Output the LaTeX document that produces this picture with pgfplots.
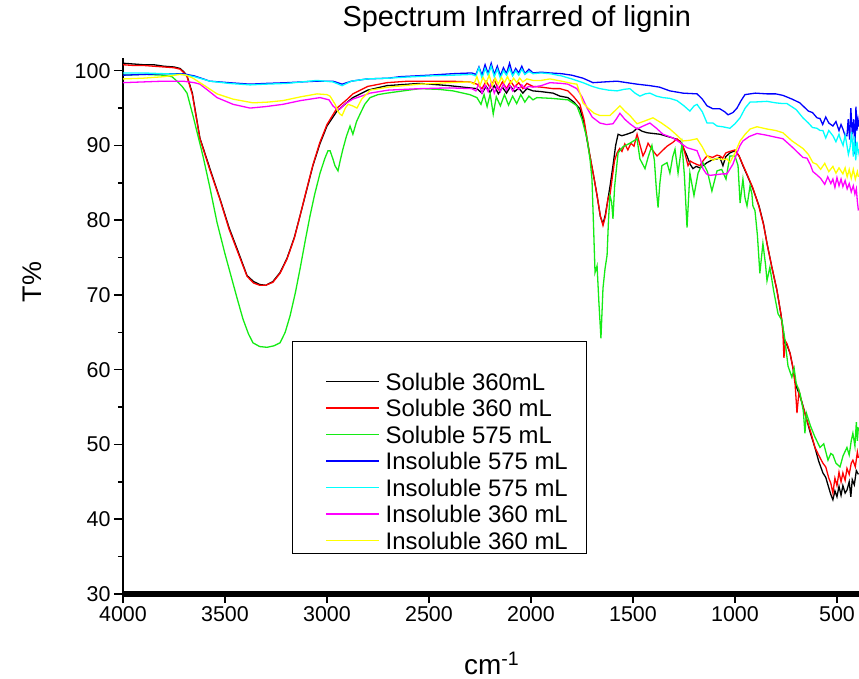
\documentclass[border=0pt]{standalone}
\usepackage{pgfplots}
\pgfplotsset{compat=1.18}
\usepackage{fontspec}
\setmainfont{Liberation Sans}
\definecolor{cgreen}{RGB}{20,235,20}
\definecolor{cblue}{RGB}{0,0,255}
\definecolor{ccyan}{RGB}{0,255,255}
\definecolor{cmag}{RGB}{255,0,255}
\definecolor{cyel}{RGB}{255,255,0}
\definecolor{cred}{RGB}{255,0,0}
\newcommand{\ls}{\rule[-2bp]{0pt}{21bp}}
\begin{document}
\begin{tikzpicture}
\begin{axis}[
  scale only axis, width=736bp, height=536bp,
  x dir=reverse, xmin=392, xmax=4000, ymin=30, ymax=101.7,
  axis x line*=bottom, axis y line*=left,
  x axis line style={line width=5.5bp,-},
  y axis line style={line width=1.8bp,-},
  xtick={500,1000,...,4000}, ytick={30,40,...,100},
  minor y tick num=1,
  tick align=outside, major tick length=9bp, minor tick length=5bp,
  tick style={black, line width=1.5bp},
  ticklabel style={font=\fontsize{21.5}{24}\selectfont},
  /pgf/number format/assume math mode=true,
  /pgf/number format/1000 sep={},
  title={Spectrum Infrarred of lignin},
  title style={at={(axis description cs:0.535,1.0616)}, anchor=center, font=\fontsize{29}{32}\selectfont},
  xlabel={cm\textsuperscript{-1}},
  xlabel style={at={(axis description cs:0.501,-0.129)}, anchor=center, font=\fontsize{28}{30}\selectfont},
  ylabel={T\%},
  ylabel style={at={(axis description cs:-0.1236,0.582)}, anchor=center, rotate=0, font=\fontsize{27}{30}\selectfont},
  legend image code/.code={\path (0bp,0bp); \draw[#1] (16bp,0bp) -- (69bp,0bp);},
  legend style={at={(axis cs:3172,63.8)}, anchor=north west, draw=black, line width=1bp, fill=white,
    inner xsep=17bp, inner ysep=0bp, cells={anchor=west}, nodes={inner xsep=2bp, inner ysep=3bp},
    column sep=4bp, font=\fontsize{24}{27}\selectfont},
  every axis plot/.append style={line width=1.3bp},
]
\addlegendimage{empty legend}\addlegendentry{\ls}
% Soluble 360mL (black)
\addplot[black] coordinates {(4000,101.0)(3950,100.9)(3900,100.8)(3850,100.8)(3800,100.6)(3750,100.5)(3720,100.3)(3700,99.8)(3686,99.3)(3660,97.0)(3623,91.0)(3575,87.0)(3525,82.9)(3480,79.0)(3441,76.2)(3392,72.6)(3360,71.8)(3330,71.4)(3300,71.3)(3265,71.8)(3230,73.0)(3196,74.9)(3160,77.7)(3132,80.6)(3100,84.0)(3069,87.3)(3035,90.2)(3000,92.6)(2951,94.6)(2900,95.8)(2873,96.4)(2800,97.4)(2706,98.0)(2600,98.2)(2544,98.3)(2400,98.0)(2299,97.7)(2265,97.6)(2240,97.0)(2220,97.9)(2200,97.1)(2180,98.0)(2160,96.9)(2140,97.8)(2120,97.0)(2100,97.9)(2080,97.2)(2060,97.7)(2040,97.0)(2020,97.6)(1990,97.3)(1950,97.2)(1892,97.0)(1858,96.6)(1819,96.4)(1790,95.8)(1760,94.9)(1740,93.0)(1711,88.6)(1690,85.5)(1676,83.3)(1660,80.5)(1647,79.5)(1635,80.8)(1622,82.9)(1610,85.0)(1598,87.3)(1585,90.0)(1573,91.5)(1555,91.3)(1530,91.5)(1500,91.8)(1480,92.3)(1455,91.9)(1431,91.7)(1400,91.6)(1368,91.5)(1330,91.2)(1304,91.0)(1270,90.6)(1250,89.5)(1235,88.6)(1220,87.5)(1206,86.9)(1190,87.2)(1172,87.0)(1137,87.7)(1110,88.1)(1088,88.2)(1074,88.4)(1059,87.3)(1045,88.5)(1025,89.0)(1000,89.3)(980,88.6)(961,87.3)(940,86.0)(912,84.2)(882,81.9)(860,79.5)(843,76.9)(819,73.7)(794,70.6)(770,66.6)(755,63.5)(745,63.3)(730,62.2)(716,60.3)(700,57.8)(686,56.8)(670,55.5)(647,53.2)(630,51.5)(608,49.6)(590,47.8)(569,46.2)(555,45.6)(540,44.2)(530,43.3)(520,42.6)(510,43.8)(500,43.0)(490,44.4)(480,43.2)(471,44.5)(460,43.5)(451,43.9)(440,45.0)(432,43.0)(425,45.3)(415,44.6)(405,46.5)(395,46.0)};
\addlegendentry{\ls Soluble 360mL}
% Soluble 360 mL (red)
\addplot[cred] coordinates {(4000,100.8)(3950,100.7)(3900,100.7)(3850,100.6)(3800,100.5)(3750,100.4)(3720,100.2)(3700,99.7)(3686,99.2)(3660,96.8)(3623,90.9)(3575,86.8)(3525,82.8)(3480,78.8)(3441,76.0)(3392,72.5)(3360,71.6)(3330,71.3)(3300,71.3)(3265,71.7)(3230,72.9)(3196,74.8)(3160,77.6)(3132,80.6)(3100,84.1)(3069,87.4)(3035,90.4)(3000,92.8)(2951,95.0)(2900,96.2)(2873,96.9)(2800,97.9)(2706,98.4)(2600,98.6)(2544,98.6)(2400,98.6)(2299,98.5)(2265,98.2)(2240,97.6)(2220,98.6)(2200,97.7)(2180,98.8)(2160,97.5)(2140,98.5)(2120,97.6)(2100,98.6)(2080,97.8)(2060,98.4)(2040,97.6)(2020,98.3)(1990,97.9)(1950,97.8)(1892,97.6)(1858,97.6)(1819,97.3)(1790,96.5)(1760,95.5)(1740,93.5)(1711,88.6)(1690,85.5)(1676,83.3)(1660,80.6)(1647,79.3)(1635,80.5)(1622,83.0)(1612,83.5)(1600,86.0)(1590,88.0)(1578,89.0)(1565,89.6)(1554,89.2)(1540,90.2)(1525,89.4)(1510,90.3)(1495,89.9)(1480,91.5)(1465,90.0)(1451,88.6)(1440,89.2)(1426,90.3)(1405,89.4)(1382,88.6)(1360,89.2)(1333,89.9)(1305,90.4)(1284,90.9)(1270,90.5)(1255,90.0)(1242,88.6)(1230,87.3)(1218,87.9)(1206,87.7)(1190,87.5)(1172,87.3)(1155,88.0)(1137,88.6)(1110,88.4)(1088,88.7)(1074,88.6)(1060,88.3)(1045,89.0)(1025,89.2)(1000,89.4)(980,88.6)(961,87.4)(940,86.1)(912,84.3)(882,81.8)(860,79.4)(843,76.9)(819,73.7)(794,70.6)(775,67.5)(765,65.0)(760,61.6)(752,63.8)(745,63.5)(730,62.2)(716,60.3)(705,58.0)(696,54.2)(686,57.2)(670,55.4)(647,53.2)(630,51.8)(608,49.6)(590,48.6)(569,47.5)(555,47.0)(540,45.5)(530,44.8)(520,43.5)(510,45.5)(500,44.5)(490,46.3)(480,45.0)(471,46.2)(460,45.2)(451,46.8)(440,46.0)(430,47.5)(422,47.9)(410,47.0)(400,49.0)(395,48.2)};
\addlegendentry{\ls Soluble 360 mL}
% Soluble 575 mL (green)
\addplot[cgreen] coordinates {(4000,99.4)(3900,99.5)(3800,99.4)(3760,99.2)(3735,98.6)(3710,97.9)(3686,97.0)(3657,94.0)(3608,88.6)(3575,84.5)(3539,79.7)(3500,75.5)(3475,73.0)(3440,69.5)(3412,66.8)(3385,64.8)(3363,63.6)(3330,63.1)(3294,63.0)(3260,63.2)(3230,63.6)(3205,65.0)(3181,67.2)(3155,70.3)(3132,73.5)(3105,77.5)(3083,80.6)(3060,83.5)(3034,86.3)(3010,88.3)(2995,89.3)(2985,89.3)(2971,88.2)(2961,87.3)(2946,86.6)(2935,88.0)(2922,89.5)(2905,91.2)(2887,92.6)(2873,91.5)(2855,93.2)(2838,94.2)(2815,95.5)(2789,96.4)(2750,96.8)(2706,97.0)(2600,97.4)(2544,97.6)(2450,97.5)(2382,97.3)(2300,96.8)(2265,96.4)(2245,95.5)(2230,96.8)(2215,95.2)(2200,96.9)(2185,94.2)(2170,96.5)(2150,95.3)(2130,96.8)(2110,95.4)(2090,96.6)(2070,95.6)(2050,96.8)(2030,95.8)(2010,96.6)(1990,96.1)(1971,96.4)(1900,96.3)(1858,96.2)(1819,96.1)(1790,95.6)(1775,95.3)(1750,93.5)(1725,90.9)(1710,88.0)(1701,85.5)(1693,79.0)(1686,73.0)(1676,73.9)(1667,69.0)(1657,64.2)(1647,70.9)(1637,73.5)(1627,75.3)(1620,80.0)(1613,83.3)(1605,82.5)(1598,80.2)(1590,84.5)(1573,89.0)(1550,89.8)(1515,90.3)(1480,90.9)(1466,88.2)(1441,86.9)(1425,88.5)(1407,90.0)(1395,88.0)(1385,84.0)(1377,81.7)(1368,85.0)(1358,87.3)(1333,87.7)(1319,86.3)(1305,88.5)(1294,89.5)(1279,86.3)(1260,90.2)(1248,86.0)(1235,79.0)(1221,86.3)(1201,83.3)(1181,86.3)(1157,87.7)(1135,86.5)(1113,83.9)(1088,86.6)(1065,86.8)(1044,85.5)(1025,88.6)(1000,88.6)(985,87.3)(975,82.3)(961,85.5)(951,83.0)(941,81.9)(926,84.6)(917,83.5)(912,81.9)(902,81.3)(890,78.0)(878,72.9)(863,76.9)(850,74.0)(843,71.9)(829,73.7)(810,70.5)(789,67.5)(770,66.6)(755,64.0)(740,60.5)(721,59.0)(710,60.2)(700,58.2)(681,56.8)(665,54.5)(657,51.5)(650,54.2)(630,52.5)(608,51.0)(583,49.6)(565,50.1)(544,47.9)(530,48.8)(520,48.6)(505,47.5)(485,47.0)(470,48.5)(451,49.6)(440,48.6)(430,50.5)(422,51.5)(412,49.8)(405,53.0)(400,50.5)(395,52.3)};
\addlegendentry{\ls Soluble 575 mL}
% Insoluble 575 mL (blue)
\addplot[cblue] coordinates {(4000,99.4)(3900,99.5)(3800,99.6)(3706,99.6)(3650,99.3)(3574,98.6)(3480,98.4)(3377,98.2)(3300,98.3)(3196,98.4)(3050,98.6)(2971,98.6)(2926,98.2)(2880,98.6)(2804,98.9)(2700,99.0)(2642,99.2)(2500,99.4)(2382,99.6)(2290,99.7)(2270,99.5)(2255,100.5)(2240,99.4)(2225,100.8)(2210,99.6)(2195,101.0)(2180,99.5)(2165,100.6)(2150,99.3)(2135,100.4)(2120,99.6)(2105,101.0)(2090,99.5)(2075,100.3)(2060,99.7)(2045,100.6)(2030,99.6)(2010,100.2)(1990,99.7)(1950,99.8)(1907,99.7)(1850,99.6)(1800,99.4)(1745,99.0)(1696,98.4)(1640,98.5)(1578,98.6)(1530,98.4)(1480,98.2)(1417,98.0)(1370,97.8)(1319,97.3)(1255,97.0)(1186,96.9)(1160,96.2)(1137,95.3)(1108,94.9)(1074,94.9)(1050,94.5)(1034,94.1)(1010,94.4)(990,95.0)(970,96.0)(951,96.8)(900,97.0)(843,96.9)(800,96.9)(765,96.7)(720,96.2)(682,95.7)(667,95.3)(640,94.6)(620,94.4)(598,93.7)(583,93.6)(570,92.8)(555,93.8)(540,93.0)(520,92.6)(505,93.2)(490,92.0)(480,92.8)(471,92.2)(460,91.3)(451,91.3)(445,93.5)(438,90.8)(432,95.0)(425,91.5)(418,93.5)(412,88.8)(407,95.2)(402,92.0)(397,93.5)(392,92.5)};
\addlegendentry{\ls Insoluble 575 mL}
% Insoluble 575 mL (cyan)
\addplot[ccyan] coordinates {(4000,99.7)(3900,99.7)(3800,99.6)(3706,99.5)(3650,99.2)(3574,98.6)(3480,98.3)(3377,98.1)(3300,98.2)(3196,98.3)(3050,98.7)(2971,98.5)(2926,98.0)(2880,98.6)(2804,98.9)(2700,99.0)(2642,99.1)(2500,99.3)(2382,99.4)(2290,99.5)(2270,99.3)(2255,100.4)(2240,99.0)(2225,100.3)(2210,99.4)(2195,100.6)(2180,99.2)(2165,100.2)(2150,99.0)(2135,100.0)(2120,99.4)(2105,100.3)(2090,99.3)(2075,100.0)(2060,99.4)(2045,100.2)(2030,99.5)(2010,99.9)(1990,99.6)(1950,99.7)(1907,99.6)(1850,99.3)(1800,98.9)(1745,98.4)(1700,97.9)(1662,97.6)(1620,97.4)(1578,97.3)(1545,97.5)(1515,97.6)(1490,97.0)(1466,96.6)(1440,96.9)(1417,97.0)(1385,96.6)(1353,96.4)(1320,96.3)(1284,96.0)(1250,95.3)(1221,94.6)(1200,95.3)(1186,95.5)(1160,94.5)(1137,93.0)(1108,93.0)(1088,92.6)(1060,92.5)(1025,92.3)(1000,92.9)(975,93.7)(950,95.0)(926,95.8)(912,95.8)(843,95.9)(800,95.7)(765,95.6)(745,95.6)(700,94.8)(667,93.7)(640,93.0)(620,92.4)(598,92.3)(583,92.0)(569,92.0)(555,91.0)(540,92.0)(520,91.3)(505,90.5)(490,91.5)(485,91.0)(470,90.0)(460,91.4)(451,90.0)(444,88.8)(436,89.7)(428,91.8)(420,88.5)(414,91.2)(408,88.0)(402,90.5)(396,89.0)(392,89.5)};
\addlegendentry{\ls Insoluble 575 mL}
% Insoluble 360 mL (magenta)
\addplot[cmag] coordinates {(4000,98.4)(3900,98.5)(3800,98.6)(3706,98.6)(3650,98.4)(3623,98.2)(3580,97.3)(3539,96.4)(3460,95.5)(3377,95.0)(3300,95.2)(3216,95.5)(3130,96.0)(3034,96.4)(2990,96.1)(2971,95.3)(2950,94.8)(2936,94.9)(2910,95.6)(2873,96.2)(2789,97.0)(2700,97.4)(2544,97.6)(2400,97.7)(2290,97.6)(2270,97.3)(2255,98.3)(2240,97.0)(2225,98.1)(2210,97.2)(2195,98.4)(2180,97.0)(2165,98.0)(2150,97.2)(2135,98.2)(2120,97.4)(2105,98.1)(2090,97.3)(2075,98.0)(2060,97.5)(2045,98.1)(2030,97.6)(2010,97.9)(1990,97.8)(1950,98.0)(1907,98.4)(1850,98.3)(1819,98.2)(1775,97.6)(1750,96.5)(1725,95.0)(1700,93.8)(1662,93.0)(1630,92.8)(1598,92.9)(1580,93.6)(1564,94.3)(1540,93.5)(1515,92.9)(1480,92.2)(1450,92.6)(1417,93.0)(1385,92.3)(1353,91.5)(1304,91.0)(1270,90.4)(1235,89.7)(1186,89.3)(1170,88.2)(1157,86.9)(1140,86.2)(1123,86.0)(1090,86.1)(1059,86.2)(1039,86.2)(1010,87.5)(990,89.0)(975,90.0)(961,90.6)(930,91.2)(892,91.6)(850,91.4)(800,91.1)(765,90.9)(720,89.8)(667,88.4)(647,88.3)(630,87.4)(618,86.5)(600,86.1)(580,85.6)(560,84.8)(545,85.8)(530,84.9)(520,85.5)(510,84.4)(500,85.7)(490,84.6)(480,85.5)(471,84.5)(460,85.3)(450,84.2)(440,84.9)(430,83.8)(420,84.6)(412,83.5)(405,84.2)(400,82.5)(395,81.3)};
\addlegendentry{\ls Insoluble 360 mL}
% Insoluble 360 mL (yellow)
\addplot[cyel] coordinates {(4000,98.9)(3900,99.0)(3800,99.2)(3720,99.5)(3690,99.4)(3657,99.0)(3600,98.0)(3539,96.9)(3461,96.2)(3363,95.7)(3290,95.8)(3216,96.0)(3130,96.5)(3049,96.9)(3000,96.8)(2985,96.6)(2960,95.5)(2945,94.5)(2936,94.2)(2926,94.0)(2910,95.0)(2897,95.5)(2875,95.3)(2853,95.0)(2830,96.2)(2804,96.9)(2789,97.4)(2700,97.8)(2544,98.2)(2400,98.4)(2299,98.5)(2280,98.2)(2265,99.2)(2250,98.0)(2235,99.1)(2220,98.3)(2205,99.4)(2190,98.0)(2175,99.0)(2160,98.2)(2145,99.1)(2130,98.4)(2115,99.2)(2100,98.3)(2085,99.0)(2070,98.4)(2055,99.0)(2040,98.5)(2020,98.9)(1990,98.7)(1950,98.7)(1907,98.9)(1850,98.6)(1800,98.3)(1775,98.2)(1760,97.0)(1745,95.7)(1720,95.0)(1690,94.3)(1662,94.0)(1613,94.0)(1590,94.6)(1564,95.3)(1540,94.6)(1515,94.0)(1480,92.9)(1440,93.3)(1402,93.7)(1360,93.0)(1319,92.2)(1290,91.5)(1255,90.6)(1220,90.7)(1186,90.9)(1160,89.8)(1137,88.6)(1108,88.0)(1088,88.3)(1060,88.1)(1039,88.2)(1025,87.7)(1000,89.0)(975,90.6)(950,91.5)(926,92.2)(892,92.5)(843,92.2)(800,92.0)(765,91.7)(720,90.6)(667,89.6)(640,88.8)(618,87.7)(600,87.5)(580,86.8)(560,87.6)(540,86.5)(520,87.2)(505,86.3)(490,87.0)(471,86.2)(460,87.0)(450,85.8)(440,86.8)(430,85.6)(420,86.8)(410,85.5)(400,86.5)(395,85.8)};
\addlegendentry{\ls Insoluble 360 mL}
\end{axis}
\pgfresetboundingbox
\path[use as bounding box] ([xshift=-123bp,yshift=-85bp]current axis.south west) rectangle ([yshift=58bp]current axis.north east);
\end{tikzpicture}
\end{document}
